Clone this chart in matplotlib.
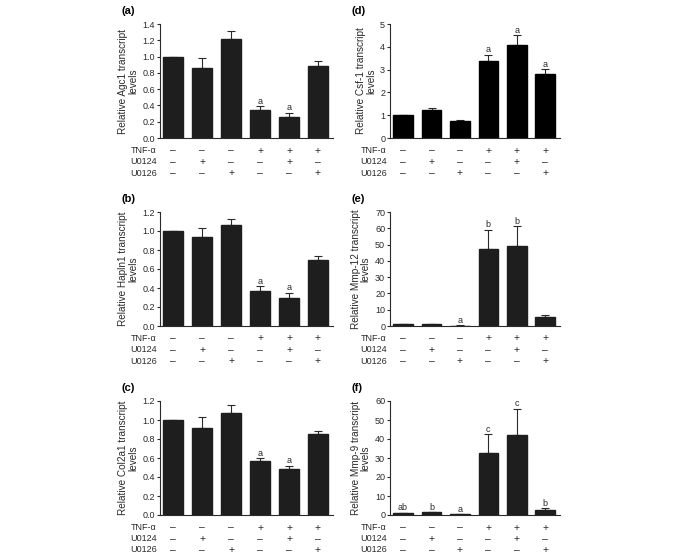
import matplotlib.pyplot as plt
import numpy as np

plt.rcParams['font.family'] = ['Liberation Sans', 'DejaVu Sans']

# treatment layout, one column per bar
row_names = ["TNF-\u03b1", "U0124", "U0126"]
tnf = ["-", "-", "-", "+", "+", "+"]
u0124 = ["-", "+", "-", "-", "+", "-"]
u0126 = ["-", "-", "+", "-", "-", "+"]

# (a) Agc1
agc1 = [1.0, 0.86, 1.22, 0.34, 0.26, 0.89]
agc1_err = [0.0, 0.12, 0.09, 0.05, 0.05, 0.06]
agc1_sig = ["", "", "", "a", "a", ""]

# (b) Hapln1
hapln1 = [1.0, 0.94, 1.06, 0.37, 0.30, 0.70]
hapln1_err = [0.0, 0.09, 0.07, 0.05, 0.05, 0.04]
hapln1_sig = ["", "", "", "a", "a", ""]

# (c) Col2a1
col2a1 = [1.0, 0.92, 1.07, 0.57, 0.48, 0.85]
col2a1_err = [0.0, 0.11, 0.09, 0.03, 0.04, 0.03]
col2a1_sig = ["", "", "", "a", "a", ""]

# (d) Csf-1
csf1 = [1.0, 1.23, 0.73, 3.38, 4.08, 2.80]
csf1_err = [0.0, 0.07, 0.08, 0.27, 0.44, 0.22]
csf1_sig = ["", "", "", "a", "a", "a"]

# (e) Mmp-12
mmp12 = [1.0, 1.2, 0.3, 47.0, 49.0, 5.3]
mmp12_err = [0.0, 0.2, 0.1, 12.0, 12.3, 1.3]
mmp12_sig = ["", "", "a", "b", "b", ""]

# (f) Mmp-9
mmp9 = [1.0, 1.4, 0.4, 32.8, 42.0, 2.6]
mmp9_err = [0.1, 0.2, 0.1, 9.8, 14.0, 1.1]
mmp9_sig = ["ab", "b", "a", "c", "c", "b"]

FS = 6.5
TXT = "#2a2a2a"


def sign(s):
    return "+" if s == "+" else "\u2013"


def panel(fig, rect, letter, vals, errs, sig, ylabel, ymax, ystep, fmt, color):
    ax = fig.add_axes(rect)
    x = np.arange(len(vals))
    ax.bar(x, vals, width=0.69, color=color, edgecolor=color, zorder=2)
    ax.errorbar(x, vals, yerr=[np.zeros(len(vals)), errs], fmt="none",
                ecolor=TXT, elinewidth=0.8, capsize=2.6, capthick=0.8,
                zorder=1)
    for xi, v, e, s in zip(x, vals, errs, sig):
        if s:
            ax.annotate(s, (xi, v + e), xytext=(0, 0.3), textcoords="offset points",
                        ha="center", va="bottom", fontsize=FS, color=TXT)
    ax.set_xlim(-0.46, 5.52)
    ax.set_ylim(0, ymax)
    ticks = np.arange(0, ymax + ystep / 2, ystep)
    ax.set_yticks(ticks)
    ax.set_yticklabels([fmt.format(t) for t in ticks])
    ax.set_xticks([])
    for sp in ["top", "right"]:
        ax.spines[sp].set_visible(False)
    for sp in ["left", "bottom"]:
        ax.spines[sp].set_linewidth(0.8)
        ax.spines[sp].set_color(TXT)
    ax.tick_params(axis="y", direction="out", length=2.5, width=0.8, pad=1,
                   labelsize=FS, colors=TXT)
    ax.set_ylabel(ylabel, fontsize=7.2, labelpad=3, linespacing=1.0, color=TXT)
    # treatment rows below the axis
    for r, (name, row) in enumerate(zip(row_names, [tnf, u0124, u0126])):
        dy = -9 - r * 8.1
        ax.annotate(name, (0, 0), xycoords="axes fraction", xytext=(-2.5, dy),
                    textcoords="offset points", ha="right", va="center",
                    fontsize=FS, color=TXT)
        for xi, s in zip(x, row):
            ax.annotate(sign(s), (xi, 0), xycoords=("data", "axes fraction"),
                        xytext=(0, dy), textcoords="offset points",
                        ha="center", va="center", fontsize=7.5, color=TXT)
    fig.text(rect[0] - 38 / 685, rect[1] + rect[3] + 13 / 559, letter,
             fontsize=8, fontweight="bold", ha="left", va="center")
    return ax


fig = plt.figure(figsize=(6.85, 5.59), dpi=100)

lx, lw = 160 / 685, 173 / 685
rx, rw = 390 / 685, 170 / 685
h = 114 / 559
b1, b2, b3 = 1 - 138 / 559, 1 - 326 / 559, 1 - 515 / 559

panel(fig, [lx, b1, lw, h], "(a)", agc1, agc1_err, agc1_sig,
      "Relative Agc1 transcript\nlevels", 1.4, 0.2, "{:.1f}", "#1e1e1e")
panel(fig, [lx, b2, lw, h], "(b)", hapln1, hapln1_err, hapln1_sig,
      "Relative Hapln1 transcript\nlevels", 1.2, 0.2, "{:.1f}", "#1e1e1e")
panel(fig, [lx, b3, lw, h], "(c)", col2a1, col2a1_err, col2a1_sig,
      "Relative Col2a1 transcript\nlevels", 1.2, 0.2, "{:.1f}", "#1e1e1e")
panel(fig, [rx, b1, rw, h], "(d)", csf1, csf1_err, csf1_sig,
      "Relative Csf-1 transcript\nlevels", 5, 1, "{:.0f}", "black")
panel(fig, [rx, b2, rw, h], "(e)", mmp12, mmp12_err, mmp12_sig,
      "Relative Mmp-12 transcript\nlevels", 70, 10, "{:.0f}", "#1e1e1e")
panel(fig, [rx, b3, rw, h], "(f)", mmp9, mmp9_err, mmp9_sig,
      "Relative Mmp-9 transcript\nlevels", 60, 10, "{:.0f}", "#1e1e1e")

fig.savefig("out.png", dpi=100)
